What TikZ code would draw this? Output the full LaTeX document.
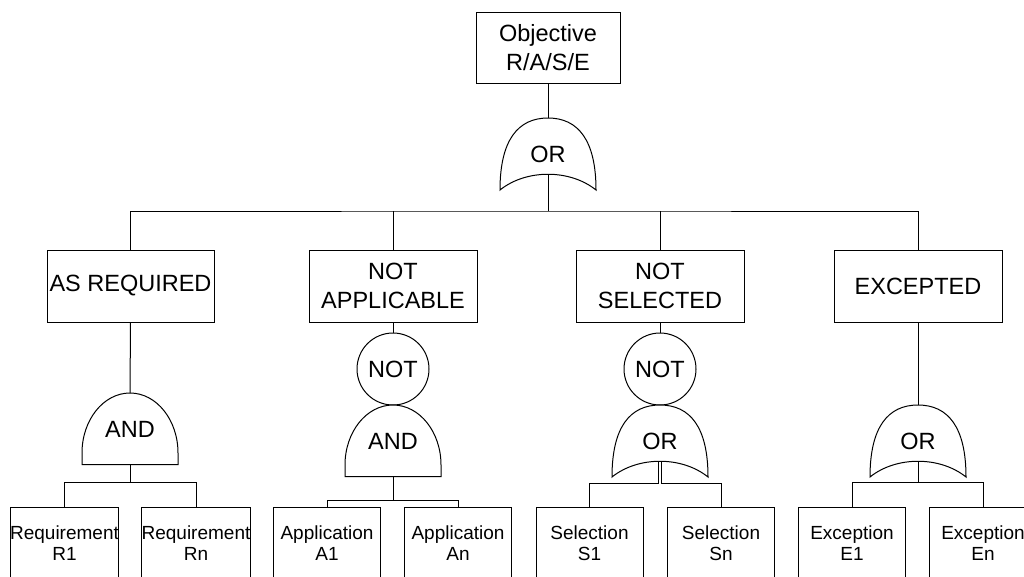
\documentclass[tikz,border=0pt]{standalone}
\usepackage{fontspec}
\setmainfont{Liberation Sans}
\newcommand\bigtext{\fontsize{23.5}{28.5}\selectfont}
\newcommand\smalltext{\fontsize{19}{21.5}\selectfont}
\tikzset{
  gateshape/.style={draw, fill=white, line width=1pt},
  gatelabel/.style={inner sep=0pt, font=\bigtext},
  % OR gate: rounded top, concave bottom; origin at the top centre
  pics/orgate/.style={code={
    \draw[gateshape] (-48,72) .. controls (-48,22) and (-30,0) .. (0,0)
      .. controls (30,0) and (48,22) .. (48,72)
      .. controls (22,51) and (-22,51) .. (-48,72) -- cycle;
    \coordinate (-top) at (0,0);
    \coordinate (-bot) at (0,56.5);
    \node[gatelabel] (-label) at (0,36) {#1};
  }},
  % AND gate: half ellipse on a short straight base; origin at the top centre
  pics/andgate/.style={code={
    \draw[gateshape] (-48,71.5) -- (-48,60)
      .. controls (-48,26.9) and (-26.5,0) .. (0,0)
      .. controls (26.5,0) and (48,26.9) .. (48,60)
      -- (48,71.5) -- cycle;
    \coordinate (-top) at (0,0);
    \coordinate (-bot) at (0,71.5);
    \node[gatelabel] (-label) at (0,36) {#1};
  }}
}
\begin{document}
\begin{tikzpicture}[x=1pt,y=-1pt,line width=1pt,
  box/.style={draw, fill=white, inner sep=0pt, align=center, font=\bigtext},
  topbox/.style={box, minimum width=168pt, minimum height=72pt},
  leafbox/.style={draw, fill=white, inner sep=0pt, align=center, font=\smalltext,
                  minimum width=107pt, minimum height=72pt},
  notgate/.style={draw, circle, fill=white, inner sep=0pt, minimum size=72pt, font=\bigtext}]
\useasboundingbox (0,0) rectangle (1024,576);
\fill[white] (0,0) rectangle (1024,576);
\clip (0,0) rectangle (1024,576);

% top event and main branches
\node[box, minimum width=144pt, minimum height=71pt] (obj) at (548,47.5) {Objective\\R/A/S/E};
\node[topbox, minimum width=167pt] (asreq) at (130.5,286) {AS REQUIRED};
\node[topbox] (notapp) at (393,286) {NOT\\APPLICABLE};
\node[topbox] (notsel) at (660,286) {NOT\\SELECTED};
\node[topbox] (exc) at (918,286) {EXCEPTED};

% gates
\pic (g0) at (548,118) {orgate=OR};
\pic (g1) at (130,393) {andgate=AND};
\node[notgate] (n2) at (393,369) {NOT};
\pic (g2) at (393,405) {andgate=AND};
\node[notgate] (n3) at (660,369) {NOT};
\pic (g3) at (660,405) {orgate=OR};
\pic (g4) at (918,405) {orgate=OR};

% basic events
\node[leafbox] (r1) at (64.5,543) {Requirement\\R1};
\node[leafbox] (rn) at (196,543) {Requirement\\Rn};
\node[leafbox] (a1) at (327,543) {Application\\A1};
\node[leafbox] (an) at (458,543) {Application\\An};
\node[leafbox] (s1) at (589.5,543) {Selection\\S1};
\node[leafbox] (sn) at (721,543) {Selection\\Sn};
\node[leafbox] (e1) at (852,543) {Exception\\E1};
\node[leafbox] (en) at (983,543) {Exception\\En};

% bus levels
\coordinate (bus0) at (548,211);
\coordinate (bus1) at (130,482.5);
\coordinate (bus2) at (393,500);
\coordinate (bus3) at (660,483);
\coordinate (bus4) at (918,482);
\coordinate (g3-l) at ([xshift=-1.5pt]g3-bot);
\coordinate (g3-r) at ([xshift=1.5pt]g3-bot);

% top level connectors
\draw (obj.south) -- (g0-top);
\draw (g0-bot) -- (bus0);
\draw (asreq.north) |- (bus0) -| (exc.north);
\draw (notapp.north) -- (notapp.north |- bus0);
\draw (notsel.north) -- (notsel.north |- bus0);

% AS REQUIRED
\draw (asreq.south) -- (g1-top);
\draw (g1-bot) -- (bus1);
\draw (r1.north) |- (bus1) -| (rn.north);

% NOT APPLICABLE
\draw (notapp.south) -- (n2.north);
\draw (g2-bot) -- (bus2);
\draw (a1.north) |- (bus2) -| (an.north);

% NOT SELECTED
\draw (notsel.south) -- (n3.north);
\draw (g3-l) -- (g3-l |- bus3) -| (s1.north);
\draw (g3-r) -- (g3-r |- bus3) -| (sn.north);

% EXCEPTED
\draw (exc.south) -- (g4-top);
\draw (g4-bot) -- (bus4);
\draw (e1.north) |- (bus4) -| (en.north);
\end{tikzpicture}
\end{document}
